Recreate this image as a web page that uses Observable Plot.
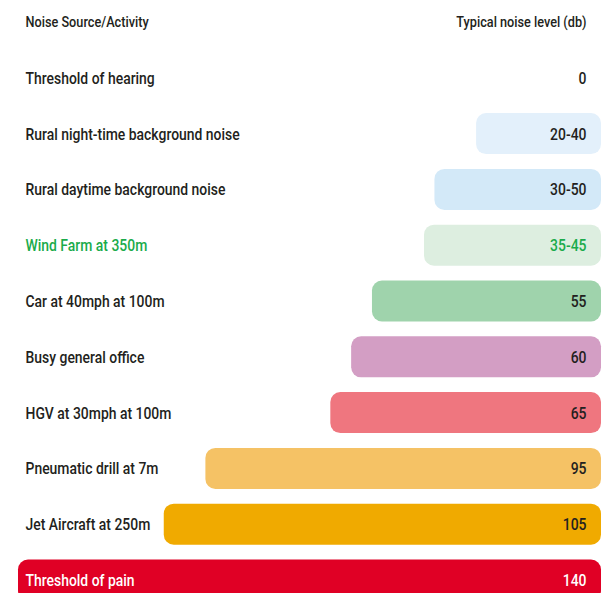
<!DOCTYPE html>
<html>
<head>
<meta charset="utf-8">
<script src="https://cdn.jsdelivr.net/npm/d3@7"></script>
<script src="https://cdn.jsdelivr.net/npm/@observablehq/plot@0.6"></script>
<style>
  html, body { margin: 0; padding: 0; background: #fff; overflow: hidden; }
  #chart svg { display: block; overflow: hidden; }
</style>
</head>
<body>
<div id="chart"></div>
<script>
const headers = ["Noise Source/Activity", "Typical noise level (db)"];
const sources = [
  "Threshold of hearing",
  "Rural night-time background noise",
  "Rural daytime background noise",
  "Wind Farm at 350m",
  "Car at 40mph at 100m",
  "Busy general office",
  "HGV at 30mph at 100m",
  "Pneumatic drill at 7m",
  "Jet Aircraft at 250m",
  "Threshold of pain"
];
const levelLabels = ["0", "20-40", "30-50", "35-45", "55", "60", "65", "95", "105", "140"];
const barLevels = [0, 30, 40, 42.5, 55, 60, 65, 95, 105, 140];
const barColors = ["#ffffff", "#e3f0fb", "#d3e9f8", "#ddeee0", "#9fd3ac", "#d39ec4", "#ef767f", "#f5c265", "#f0aa00", "#e00025"];
const textColors = ["#231f20", "#231f20", "#231f20", "#1aab4b", "#231f20", "#231f20", "#231f20", "#231f20", "#231f20", "#ffffff"];

const rows = sources.map((s, i) => ({
  source: s, label: levelLabels[i], level: barLevels[i], fill: barColors[i], text: textColors[i]
}));
const bars = rows.filter(d => d.level > 0);
const headerRow = [{key: "header", left: headers[0], right: headers[1]}];

const font = "Roboto, 'Liberation Sans', sans-serif";

const chart = Plot.plot({
  width: 604,
  height: 593,
  marginTop: 0, marginBottom: 0, marginLeft: 0, marginRight: 0,
  style: {fontFamily: font, fontSize: "17px", background: "#fff"},
  x: {domain: [0, 140], range: [601, 18], axis: null},
  y: {domain: ["header", ...sources], range: [-5.9, 607.9], paddingInner: 0.265, paddingOuter: 0.1325, round: false, axis: null},
  marks: [
    Plot.barX(bars, {x1: 0, x2: "level", y: "source", fill: "fill", rx: 10}),
    Plot.text(rows, {y: "source", text: "source", fill: "text", frameAnchor: "left", dx: 25, textAnchor: "start", fontWeight: 500}),
    Plot.text(rows, {y: "source", text: "label", fill: "text", frameAnchor: "right", dx: -18, textAnchor: "end", fontWeight: 500}),
    Plot.text(headerRow, {y: "key", text: "left", fill: "#231f20", frameAnchor: "left", dx: 25, textAnchor: "start", fontWeight: 500, fontSize: 15.5}),
    Plot.text(headerRow, {y: "key", text: "right", fill: "#231f20", frameAnchor: "right", dx: -18, textAnchor: "end", fontWeight: 500, fontSize: 15.5})
  ]
});

// Condensed look: squeeze each label horizontally about its own anchor point.
const sx = 0.82;
d3.select(chart).selectAll("text").each(function() {
  const t = this.getAttribute("transform");
  if (t && t.includes("translate")) {
    this.setAttribute("transform", t + ` scale(${sx},1)`);
  } else {
    const x = +(this.getAttribute("x") || 0), y = +(this.getAttribute("y") || 0);
    this.setAttribute("transform", `${t || ""} translate(${x},${y}) scale(${sx},1) translate(${-x},${-y})`);
  }
});
document.getElementById("chart").append(chart);
</script>
</body>
</html>
